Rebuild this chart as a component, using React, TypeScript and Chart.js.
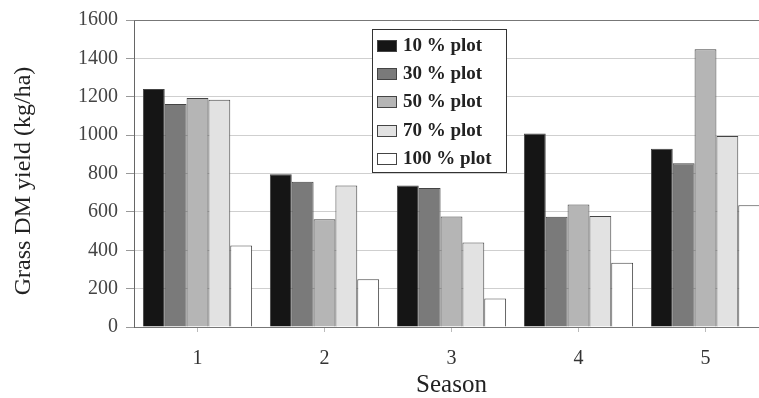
import React, { useEffect, useRef } from "react";
import { Chart, registerables } from "chart.js";

Chart.register(...registerables);

const seasons = ["1", "2", "3", "4", "5"];
const seriesLabels = ["10 % plot", "30 % plot", "50 % plot", "70 % plot", "100 % plot"];
const plot10 = [1240, 796, 738, 1008, 929];
const plot30 = [1162, 757, 724, 575, 853];
const plot50 = [1194, 561, 576, 638, 1447];
const plot70 = [1184, 738, 440, 578, 995];
const plot100 = [425, 249, 148, 335, 635];
const yTicks = [0, 200, 400, 600, 800, 1000, 1200, 1400, 1600];
const yTitle = "Grass DM yield (kg/ha)";
const xTitle = "Season";

const fills = ["#151515", "#7a7a7a", "#b5b5b5", "#e2e2e2", "#ffffff"];
const FONT = "'Liberation Serif', 'Times New Roman', serif";

const legendPlugin = {
  id: "boxLegend",
  afterDraw(chart: any) {
    const ctx = chart.ctx;
    const bx = 372.5, by = 29.5, bw = 134, bh = 143;
    ctx.save();
    ctx.fillStyle = "#ffffff";
    ctx.fillRect(bx, by, bw, bh);
    ctx.strokeStyle = "#333";
    ctx.lineWidth = 1;
    ctx.strokeRect(bx, by, bw, bh);
    ctx.font = `bold 19px ${FONT}`;
    ctx.textBaseline = "middle";
    ctx.textAlign = "left";
    chart.data.datasets.forEach((ds: any, i: number) => {
      const cy = 45 + i * 28.2;
      ctx.fillStyle = ds.backgroundColor;
      ctx.fillRect(377, Math.round(cy - 5) + 0.5, 19, 11);
      ctx.strokeStyle = "#444";
      ctx.strokeRect(377.5, Math.round(cy - 5) + 0.5, 19, 11);
      ctx.fillStyle = "#222";
      ctx.fillText(ds.label, 403, cy + 1);
    });
    ctx.restore();
  },
};

const yTitlePlugin = {
  id: "yTitleText",
  afterDraw(chart: any) {
    const ctx = chart.ctx;
    ctx.save();
    ctx.translate(24, 181);
    ctx.rotate(-Math.PI / 2);
    ctx.font = `24px ${FONT}`;
    ctx.fillStyle = "#222";
    ctx.textAlign = "center";
    ctx.textBaseline = "middle";
    ctx.fillText(yTitle, 0, 0);
    ctx.restore();
  },
};

export default function App() {
  const ref = useRef<HTMLCanvasElement>(null);
  useEffect(() => {
    if (!ref.current) return;
    const values = [plot10, plot30, plot50, plot70, plot100];
    const chart = new Chart(ref.current, {
      type: "bar",
      data: {
        labels: seasons,
        datasets: seriesLabels.map((label, i) => ({
          label,
          data: values[i],
          backgroundColor: fills[i],
          borderColor: "#444",
          borderWidth: 1,
          categoryPercentage: 0.86,
          barPercentage: 1.0,
        })),
      },
      options: {
        responsive: false,
        animation: false,
        devicePixelRatio: 1,
        layout: { padding: { left: 0, right: 7, top: 17, bottom: 0 } },
        plugins: { legend: { display: false }, tooltip: { enabled: false } },
        scales: {
          x: {
            afterFit(scale: any) {
              scale.height = 71;
            },
            grid: { drawOnChartArea: false, drawTicks: true, tickLength: 5, color: "#bbb", offset: false },
            border: { display: true, color: "#777", width: 1 },
            ticks: { color: "#333", font: { family: FONT, size: 20 }, padding: 15 },
            title: {
              display: true,
              text: xTitle,
              color: "#222",
              font: { family: FONT, size: 25 },
              padding: { top: 0, bottom: -2 },
            },
          },
          y: {
            min: 0,
            max: 1600,
            afterFit(scale: any) {
              scale.width = 134;
            },
            afterBuildTicks(scale: any) {
              scale.ticks = yTicks.map((v) => ({ value: v }));
            },
            grid: { color: "#cfcfcf", tickLength: 8, tickColor: "#999", lineWidth: 1 },
            border: { display: true, color: "#666", width: 1 },
            ticks: {
              color: "#444",
              font: { family: FONT, size: 20 },
              padding: 8,
              callback: (v: any) => String(v),
            },
          },
        },
      },
      plugins: [
        legendPlugin,
        yTitlePlugin,
        {
          id: "topBorder",
          afterDraw(c: any) {
            const a = c.chartArea;
            const ctx = c.ctx;
            ctx.save();
            ctx.strokeStyle = "#777";
            ctx.lineWidth = 1;
            ctx.beginPath();
            ctx.moveTo(a.left, Math.round(a.top) + 0.5);
            ctx.lineTo(a.right, Math.round(a.top) + 0.5);
            ctx.stroke();
            ctx.restore();
          },
        },
      ],
    });
    return () => chart.destroy();
  }, []);
  return (
    <div style={{ position: "absolute", left: 0, top: 0, width: 759, height: 398, overflow: "hidden", background: "#fff" }}>
      <canvas ref={ref} width={776} height={398} style={{ display: "block" }} />
    </div>
  );
}
